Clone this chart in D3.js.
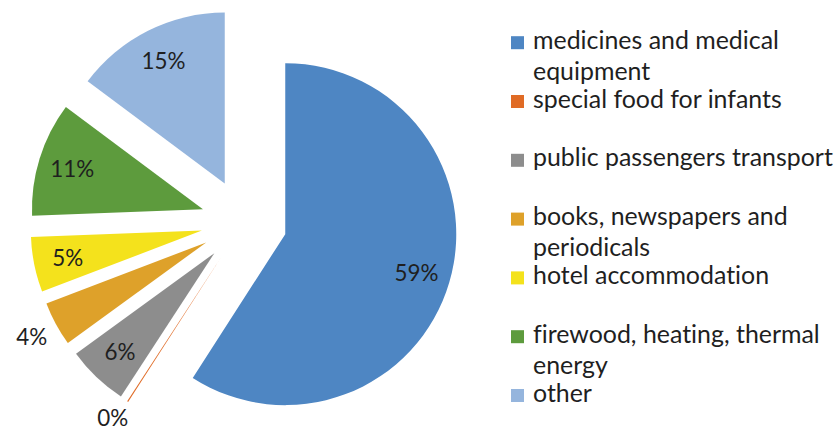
<!DOCTYPE html>
<html><head><meta charset="utf-8">
<script src="https://cdn.jsdelivr.net/npm/d3@7"></script>
<style>body{margin:0;background:#fff} svg{display:block} text{font-variant-ligatures:none;font-feature-settings:"liga" 0}</style>
</head><body>
<svg id="chart" width="840" height="434"></svg>
<script>
const categories = ["medicines and medical equipment","special food for infants","public passengers transport","books, newspapers and periodicals","hotel accommodation","firewood, heating, thermal energy","other"];
const legendLines = [["medicines and medical","equipment"],["special food for infants"],["public passengers transport"],["books, newspapers and","periodicals"],["hotel accommodation"],["firewood, heating, thermal","energy"],["other"]];
const values = [59.1, 0.1, 5.8, 4.2, 5.2, 10.8, 14.8];
const labels = ["59%","0%","6%","4%","5%","11%","15%"];
const colors = ["#4E86C3","#E06B25","#8D8D8D","#DEA12A","#F4E21C","#5D9B3D","#95B5DD"];

const W = 840, H = 434;
const FONT = "Lato, 'Open Sans', sans-serif";
const svg = d3.select("#chart");

// fit font sizes by measured width
function fitSize(txt, target){
  const t = svg.append("text").attr("font-family", FONT).attr("font-size", 100).text(txt);
  const w = t.node().getComputedTextLength(); t.remove();
  return 100 * target / w;
}
const legendSize = fitSize("public passengers transport", 300);
const labelSize = fitSize("15%", 44);

const cx = 244, cy = 222, r = 171, explode = 43;

const pie = d3.pie().sort(null).value(d => d)(values);
const arc = d3.arc().innerRadius(0).outerRadius(r);

const g = svg.append("g").attr("transform", `translate(${cx},${cy})`);
const slices = g.selectAll("g.slice").data(pie).enter().append("g").attr("class","slice")
  .attr("transform", d => {
    const a = (d.startAngle + d.endAngle) / 2;
    return `translate(${explode*Math.sin(a)},${-explode*Math.cos(a)})`;
  });
slices.append("path").attr("d", arc).attr("fill", (d,i) => colors[i]);

slices.append("text")
  .attr("font-family", FONT).attr("font-size", labelSize).attr("fill", "#1f1f1f")
  .attr("text-anchor","middle").attr("dy","0.36em")
  .attr("transform", d => {
    const a = (d.startAngle + d.endAngle) / 2;
    const k = d.value < 4.5 ? 1.16 : 0.8;
    const ox = explode*Math.sin(a), oy = -explode*Math.cos(a);
    let y = -k*r*Math.cos(a);
    const maxY = H - 16 - cy - oy;   // keep label inside the canvas
    y = Math.min(y, maxY);
    return `translate(${k*r*Math.sin(a)},${y})`;
  })
  .text((d,i) => labels[i]);

// legend
const y0 = 42.7, step = 58.8, lx = 511, sq = 13, tx = 533, lineH = 31;
const leg = svg.append("g").selectAll("g").data(categories).enter().append("g")
  .attr("transform", (d,i) => `translate(0,${y0 + i*step})`);
leg.append("rect").attr("x", lx).attr("y", -sq/2).attr("width", sq).attr("height", sq)
  .attr("fill", (d,i) => colors[i]);
leg.each(function(d,i){
  const t = d3.select(this).append("text").attr("font-family", FONT).attr("font-size", legendSize)
    .attr("fill", "#1f1f1f");
  legendLines[i].forEach((ln, j) => {
    t.append("tspan").attr("x", tx).attr("y", 6 + j*lineH).text(ln);
  });
});
</script>
</body></html>
